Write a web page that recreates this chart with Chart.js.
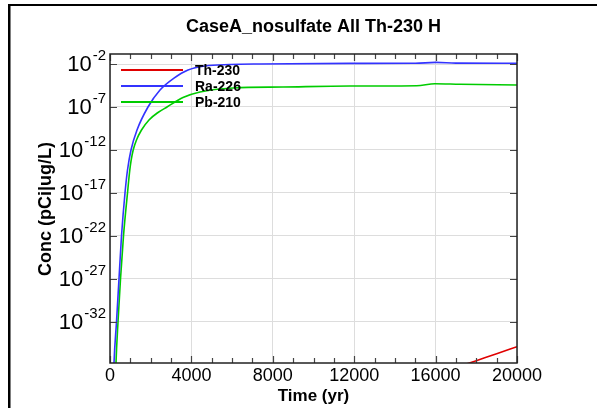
<!DOCTYPE html>
<html>
<head>
<meta charset="utf-8">
<script src="https://cdn.jsdelivr.net/npm/chart.js@4/dist/chart.umd.min.js"></script>
<style>
  html, body { margin: 0; padding: 0; background: #fff; }
  #wrap { width: 597px; height: 408px; }
</style>
</head>
<body>
<div id="wrap"><canvas id="chart" width="597" height="408"></canvas></div>
<script>
// CaseA_nosulfate - concentration vs time (log scale)

const chartTitle = 'CaseA_nosulfate All Th-230 H';
const xTitle = 'Time (yr)';
const yTitle = 'Conc (pCi|ug/L)';

// x ticks (yr)
const xLabels = [0, 4000, 8000, 12000, 16000, 20000];
const xMinorStep = 1000;
// y ticks as powers of ten
const yTickExps = [-2, -7, -12, -17, -22, -27, -32];

// Th-230
const thTime = [17000, 18000, 19000, 20000];
const thConc = [5e-38, 3.2e-37, 2e-36, 1.35e-35];

// Ra-226
const raTime = [100, 197, 319, 442, 565, 737, 860, 1032, 1327, 1867, 2457, 3145, 3833, 4668, 5897, 7371, 11800, 15000, 16000, 17000, 20000];
const raConc = [1e-45, 1.7e-37, 1e-32, 1e-27, 1e-22, 1e-17, 4.7e-15, 1e-12, 2.1e-10, 1e-7, 9.5e-6, 2.3e-4, 2e-3, 5.9e-3, 8.7e-3, 1e-2, 1.17e-2, 1.2e-2, 1.55e-2, 1.26e-2, 1.2e-2];

// Pb-210
const pbTime = [200, 295, 393, 516, 663, 860, 973, 1042, 1140, 1302, 1548, 1916, 2359, 2801, 3587, 4423, 6044, 8501, 11794, 15070, 15970, 17200, 20000];
const pbConc = [1e-45, 1.7e-37, 1e-32, 1e-27, 1e-22, 1e-17, 4.7e-15, 6.9e-14, 1e-12, 1.45e-11, 2.1e-10, 3.1e-9, 2.3e-8, 1e-7, 1.26e-6, 5.5e-6, 1.6e-5, 2.1e-5, 2.75e-5, 3e-5, 5.1e-5, 4.4e-5, 3.6e-5];

const toPoints = (xs, ys) => xs.map((x, i) => ({ x: x, y: ys[i] }));

const FONT = '"Liberation Sans", Arial, sans-serif';

const decor = {
    id: 'decor',
    afterDraw(chart) {
        const { ctx, chartArea: a, scales: { x, y } } = chart;
        ctx.save();

        // tick marks, inside the plot
        ctx.strokeStyle = '#444';
        ctx.lineWidth = 1.2;
        ctx.beginPath();
        for (let v = 0; v <= 20000; v += xMinorStep) {
            const px = Math.round(x.getPixelForValue(v)) + 0.5;
            const len = v % 4000 === 0 ? 7 : 5;
            ctx.moveTo(px, a.bottom); ctx.lineTo(px, a.bottom - len);
            ctx.moveTo(px, a.top); ctx.lineTo(px, a.top + len);
        }
        yTickExps.forEach(e => {
            const py = Math.round(y.getPixelForValue(Math.pow(10, e))) + 0.5;
            ctx.moveTo(a.left, py); ctx.lineTo(a.left + 7, py);
            ctx.moveTo(a.right, py); ctx.lineTo(a.right - 7, py);
        });
        ctx.stroke();

        // plot frame
        ctx.strokeStyle = '#222';
        ctx.lineWidth = 1.5;
        ctx.strokeRect(a.left, a.top, a.right - a.left, a.bottom - a.top);

        ctx.fillStyle = '#000';

        // x tick labels
        ctx.font = '18px ' + FONT;
        ctx.textAlign = 'center';
        ctx.textBaseline = 'middle';
        xLabels.forEach(v => {
            ctx.fillText(String(v), x.getPixelForValue(v), a.bottom + 13);
        });

        // y tick labels 10^n
        yTickExps.forEach(e => {
            const py = y.getPixelForValue(Math.pow(10, e));
            const right = a.left - 4;
            ctx.font = '15px ' + FONT;
            const ex = String(e);
            const w = ctx.measureText(ex).width;
            ctx.textAlign = 'right';
            ctx.fillText(ex, right, py - 8);
            ctx.font = '22px ' + FONT;
            ctx.fillText('10', right - w - 1, py + 1);
        });

        // legend inside the plot
        ctx.font = 'bold 14px ' + FONT;
        ctx.textAlign = 'left';
        chart.data.datasets.forEach((ds, i) => {
            const ly = a.top + 16 + i * 16;
            ctx.strokeStyle = ds.borderColor;
            ctx.lineWidth = 2;
            ctx.beginPath();
            ctx.moveTo(a.left + 11, ly); ctx.lineTo(a.left + 73, ly);
            ctx.stroke();
            ctx.fillStyle = '#000';
            ctx.fillText(ds.label, a.left + 85, ly + 1);
        });

        // titles
        ctx.font = 'bold 18px ' + FONT;
        ctx.textAlign = 'center';
        ctx.fillText(chartTitle, (a.left + a.right) / 2, 27);
        ctx.font = 'bold 17px ' + FONT;
        ctx.fillText(xTitle, (a.left + a.right) / 2, 396);
        ctx.save();
        ctx.translate(46, 209);
        ctx.rotate(-Math.PI / 2);
        ctx.font = 'bold 18px ' + FONT;
        ctx.fillText(yTitle, 0, 0);
        ctx.restore();

        // outer frame lines
        ctx.fillStyle = '#000';
        ctx.fillRect(8, 4, 589, 2);
        ctx.fillRect(8, 4, 2.5, 404);

        ctx.restore();
    }
};

new Chart(document.getElementById('chart'), {
    type: 'line',
    data: {
        datasets: [
            { label: 'Th-230', data: toPoints(thTime, thConc), borderColor: '#e00000' },
            { label: 'Ra-226', data: toPoints(raTime, raConc), borderColor: '#3333ff' },
            { label: 'Pb-210', data: toPoints(pbTime, pbConc), borderColor: '#00cc00' }
        ]
    },
    options: {
        responsive: false,
        animation: false,
        devicePixelRatio: 1,
        layout: { padding: { left: 110, right: 80, top: 54, bottom: 45 } },
        elements: {
            point: { radius: 0 },
            line: { borderWidth: 1.6, cubicInterpolationMode: 'monotone', fill: false }
        },
        scales: {
            x: {
                type: 'linear',
                min: 0,
                max: 20000,
                ticks: { display: false, stepSize: 4000 },
                grid: { color: '#dddddd', lineWidth: 1, drawTicks: false },
                border: { display: false }
            },
            y: {
                type: 'logarithmic',
                min: Math.pow(10, -36.77),
                max: Math.pow(10, -0.837),
                ticks: { display: false },
                afterBuildTicks: scale => {
                    scale.ticks = yTickExps.map(e => ({ value: Math.pow(10, e), major: true }));
                },
                grid: { color: '#dddddd', lineWidth: 1, drawTicks: false },
                border: { display: false }
            }
        },
        plugins: {
            legend: { display: false },
            tooltip: { enabled: false }
        }
    },
    plugins: [decor]
});
</script>
</body>
</html>
